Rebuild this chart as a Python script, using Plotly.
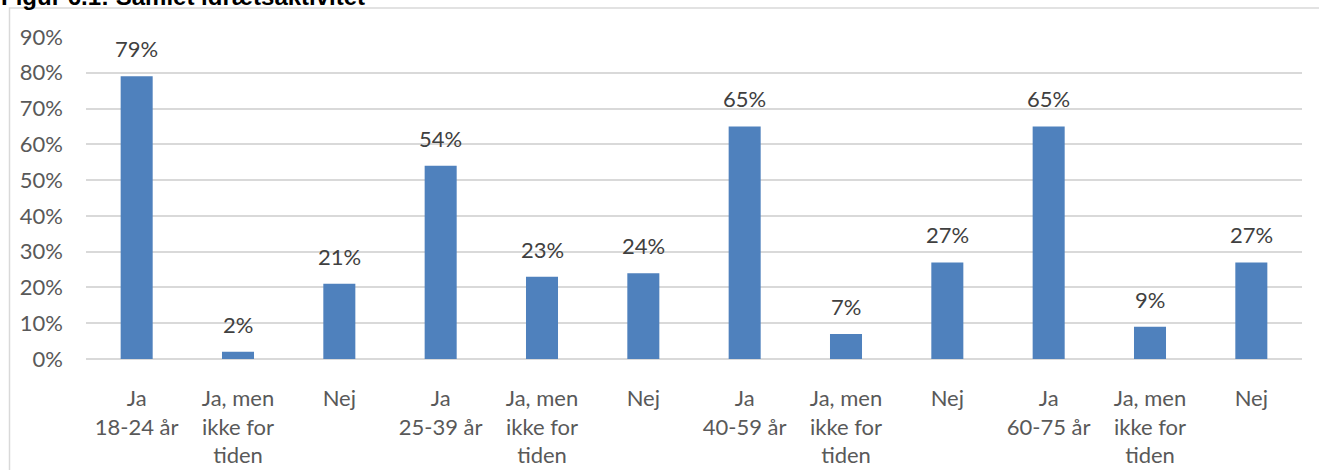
import plotly.graph_objects as go

# Idrætsaktivitet fordelt på aldersgrupper (andel af respondenter, %)
categories = [
    "Ja<br>18-24 år", "Ja, men<br>ikke for<br>tiden", "Nej",
    "Ja<br>25-39 år", "Ja, men<br>ikke for<br>tiden", "Nej",
    "Ja<br>40-59 år", "Ja, men<br>ikke for<br>tiden", "Nej",
    "Ja<br>60-75 år", "Ja, men<br>ikke for<br>tiden", "Nej",
]
values = [79, 2, 21, 54, 23, 24, 65, 7, 27, 65, 9, 27]
y_ticks = [0, 10, 20, 30, 40, 50, 60, 70, 80, 90]
title_text = "Figur 6.1: Samlet idrætsaktivitet"

W, H = 1319, 470
L, R, T, B = 86, 17, 37, 111
plot_w = W - L - R
plot_h = H - T - B

positions = list(range(len(categories)))
font_family = "Lato, 'Open Sans', sans-serif"
font_size = 22

fig = go.Figure(
    go.Bar(
        x=positions,
        y=values,
        marker=dict(color="#4f81bd", line=dict(width=0)),
        width=0.316,
        hoverinfo="x+y",
    )
)


def px_to_paper_x(px):
    return (px - L) / plot_w


def px_to_paper_y(py):
    return (H - B - py) / plot_h


# value labels above each bar
value_labels = [
    dict(
        x=p,
        y=v,
        xref="x",
        yref="y",
        text=f"{v}%",
        showarrow=False,
        xanchor="center",
        yanchor="bottom",
        yshift=13,
        borderpad=0,
        font=dict(family=font_family, size=font_size, color="#404040"),
    )
    for p, v in zip(positions, values)
]

title_annotation = dict(
    text=f"<b>{title_text}</b>",
    xref="paper",
    yref="paper",
    x=px_to_paper_x(0),
    y=px_to_paper_y(11),
    xanchor="left",
    yanchor="bottom",
    showarrow=False,
    borderpad=0,
    font=dict(family="Liberation Sans, Arial, sans-serif", size=24, color="#000000"),
)

fig.update_layout(
    width=W,
    height=H,
    margin=dict(l=L, r=R, t=T, b=B, pad=0, autoexpand=False),
    paper_bgcolor="white",
    plot_bgcolor="white",
    showlegend=False,
    font=dict(family=font_family, size=font_size, color="#595959"),
    xaxis=dict(
        tickmode="array",
        tickvals=positions,
        ticktext=categories,
        range=[-0.5, len(categories) - 0.5],
        showgrid=False,
        zeroline=False,
        showline=False,
        ticks="",
        automargin=False,
        ticklabelstandoff=24,
        tickfont=dict(family=font_family, size=font_size, color="#595959"),
    ),
    yaxis=dict(
        range=[0, 90],
        tickmode="array",
        tickvals=y_ticks,
        ticktext=[f"{t}%" for t in y_ticks],
        showgrid=True,
        gridcolor="#d9d9d9",
        gridwidth=1.5,
        zeroline=True,
        zerolinecolor="#d9d9d9",
        zerolinewidth=1.5,
        showline=False,
        ticks="",
        automargin=False,
        ticklabelstandoff=22,
        tickfont=dict(family=font_family, size=font_size, color="#595959"),
    ),
    shapes=[
        dict(
            type="rect",
            xref="paper",
            yref="paper",
            x0=px_to_paper_x(9.5),
            x1=px_to_paper_x(1330),
            y0=px_to_paper_y(490),
            y1=px_to_paper_y(8),
            line=dict(color="#d9d9d9", width=1.5),
            fillcolor="rgba(0,0,0,0)",
            layer="below",
        )
    ],
    annotations=value_labels + [title_annotation],
)

fig.write_html("out.html")
